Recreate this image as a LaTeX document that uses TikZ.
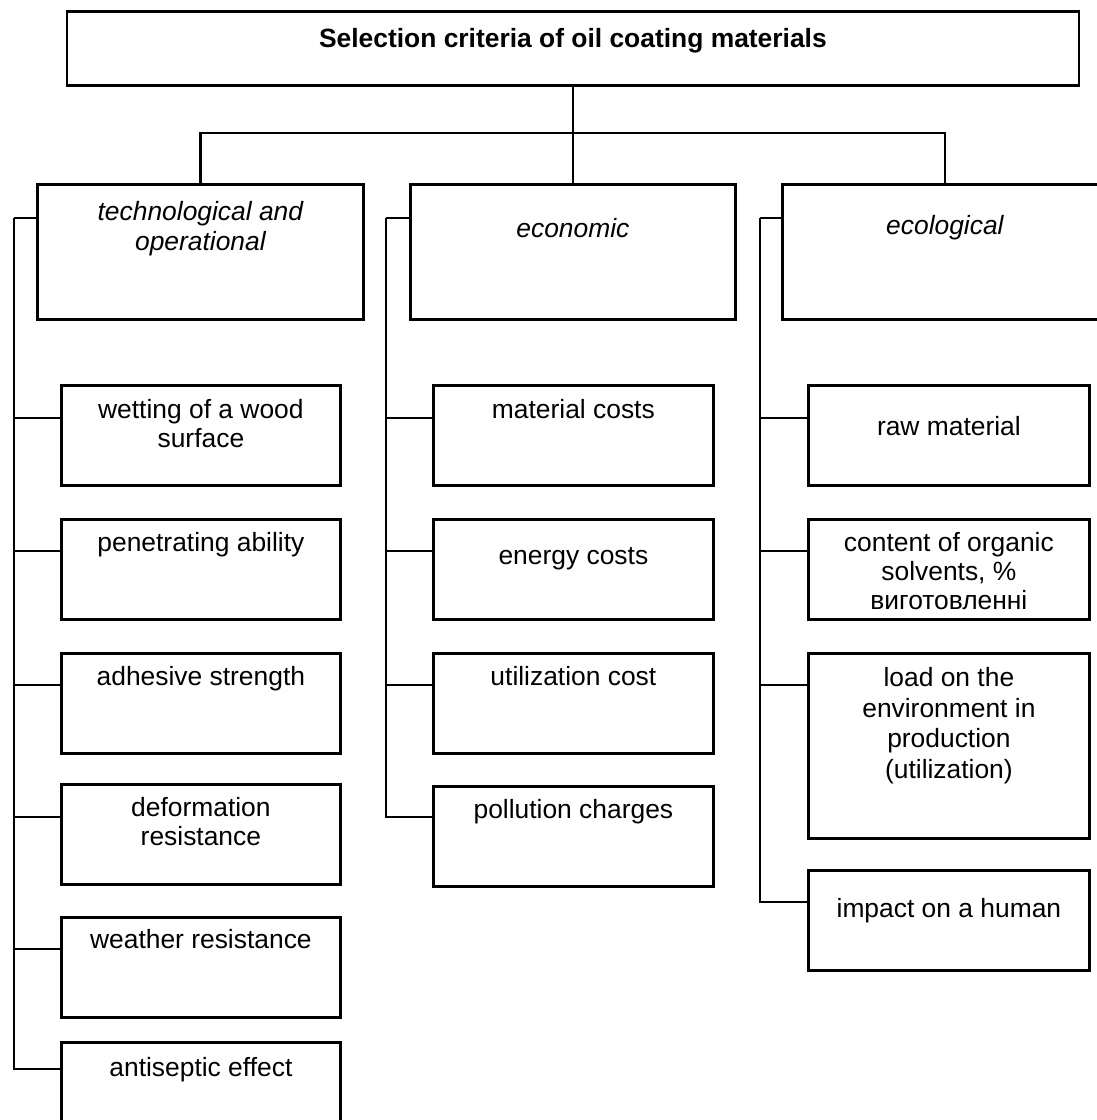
\documentclass[tikz,border=0pt]{standalone}
\usepackage{fontspec}
\setmainfont{Liberation Sans}
\usetikzlibrary{positioning}

\tikzset{
  box/.style={draw=black, line width=1.4pt, inner sep=0pt, anchor=north west},
  crit/.style={box, minimum width=140pt, minimum height=50pt},
  label/.style={inner sep=0pt, align=center, font=\fontsize{13.2}{14.5}\selectfont},
  head/.style={label, font=\fontsize{13.2}{15}\selectfont\itshape},
  wire/.style={black, line width=1.4pt}
}

\begin{document}
\begin{tikzpicture}[x=0.5pt, y=-0.5pt]
\useasboundingbox (0,0) rectangle (1097,1120);
\clip (0,0) rectangle (1097,1120);
% title and the three groups
\node [box, minimum width=506pt, minimum height=37pt] (title) at (65.5,10) {};
\node [label, font=\fontsize{13.2}{15}\selectfont\bfseries, below=9pt of title.north] (titleT) {Selection criteria of oil coating materials};
\node [box, minimum width=163pt, minimum height=67.5pt] (tech) at (36,183) {};
\node [head, below=9pt of tech.north] (techT) {technological and\\operational};
\node [box, minimum width=162.5pt, minimum height=67.5pt] (econ) at (409,183) {};
\node [head, below=17.5pt of econ.north] (econT) {economic};
\node [box, minimum width=162.5pt, minimum height=67.5pt] (eco) at (781,183) {};
\node [head, below=16pt of eco.north] (ecoT) {ecological};
\coordinate (bar) at (0,133);
\draw [wire] (title.south) -- (econ.north);
\draw [wire] (tech.north) -- (tech.north |- bar) -- (eco.north |- bar) -- (eco.north);
% technological and operational
\node [crit, minimum width=139.5pt] (wet) at (60,384) {};
\node [label, below=7.5pt of wet.north] (wetT) {wetting of a wood\\surface};
\node [crit, minimum width=139.5pt] (pen) at (60,518) {};
\node [label, below=7pt of pen.north] (penT) {penetrating ability};
\node [crit, minimum width=139.5pt] (adh) at (60,652) {};
\node [label, below=7pt of adh.north] (adhT) {adhesive strength};
\node [crit, minimum width=139.5pt] (dfm) at (60,783) {};
\node [label, below=7pt of dfm.north] (dfmT) {deformation\\resistance};
\node [crit, minimum width=139.5pt] (wth) at (60,916) {};
\node [label, below=6.5pt of wth.north] (wthT) {weather resistance};
\node [crit, minimum width=139.5pt] (ant) at (60,1041) {};
\node [label, below=8pt of ant.north] (antT) {antiseptic effect};
% economic
\node [crit] (mat) at (432,384) {};
\node [label, below=7.5pt of mat.north] (matT) {material costs};
\node [crit] (enr) at (432,518) {};
\node [label, below=14.5pt of enr.north] (enrT) {energy costs};
\node [crit] (utl) at (432,652) {};
\node [label, below=7pt of utl.north] (utlT) {utilization cost};
\node [crit] (pol) at (432,785) {};
\node [label, below=7pt of pol.north] (polT) {pollution charges};
% ecological
\node [crit, minimum width=140.5pt] (raw) at (807,384) {};
\node [label, below=16pt of raw.north] (rawT) {raw material};
\node [crit, minimum width=140.5pt] (sol) at (807,518) {};
\node [label, below=7pt of sol.north] (solT) {content of organic\\solvents, \%\\виготовленні};
\node [crit, minimum width=140.5pt, minimum height=92.5pt] (env) at (807,652) {};
\node [label, font=\fontsize{13.2}{15.3}\selectfont, below=7.5pt of env.north] (envT) {load on the\\environment in\\production\\(utilization)};
\node [crit, minimum width=140.5pt] (hum) at (807,869) {};
\node [label, below=14.5pt of hum.north] (humT) {impact on a human};
% side rails
\coordinate (r1) at (14,218);
\coordinate (r2) at (386,218);
\coordinate (r3) at (760,218);
\draw [wire] (tech.north west |- r1) -- (r1);
\draw [wire] (econ.north west |- r2) -- (r2);
\draw [wire] (eco.north west |- r3) -- (r3);
\foreach \b/\d in {wet/34, pen/33, adh/33, dfm/34, wth/33, ant/28}
  \draw [wire] (\b.north west) ++(0,\d) -| (r1);
\foreach \b/\d in {mat/34, enr/33, utl/33, pol/32}
  \draw [wire] (\b.north west) ++(0,\d) -| (r2);
\foreach \b/\d in {raw/34, sol/33, env/33, hum/33}
  \draw [wire] (\b.north west) ++(0,\d) -| (r3);
\end{tikzpicture}
\end{document}
